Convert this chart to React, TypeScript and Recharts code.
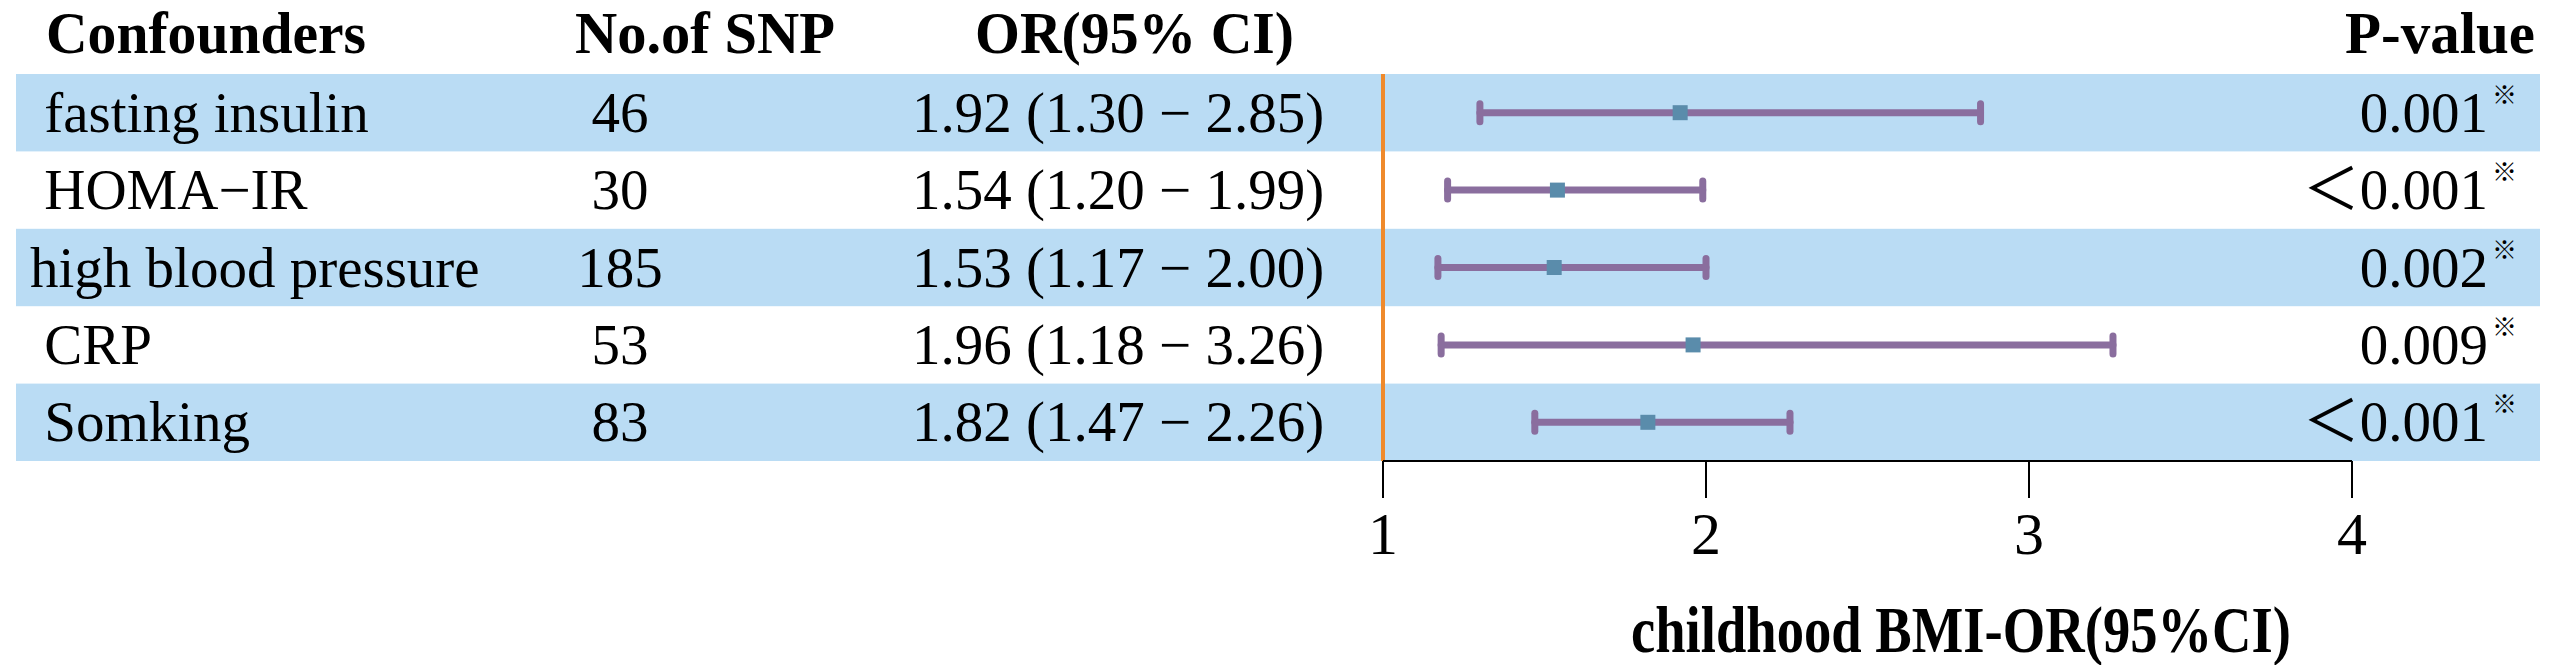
import React from "react";
import { ComposedChart, Scatter, ErrorBar, XAxis, YAxis, ReferenceArea, ReferenceLine } from "recharts";

// forest plot: childhood BMI vs confounders
const confounders = [" fasting insulin", " HOMA\u2212IR", "high blood pressure", " CRP", " Somking"];
const snpCounts = [46, 30, 185, 53, 83];
const oddsRatios = [1.92, 1.54, 1.53, 1.96, 1.82];
const ciLower = [1.3, 1.2, 1.17, 1.18, 1.47];
const ciUpper = [2.85, 1.99, 2.0, 3.26, 2.26];
const pValues = ["0.001", "\uFF1C0.001", "0.002", "0.009", "\uFF1C0.001"];
const xTicks = [1, 2, 3, 4];
const shadedRows = [0, 2, 4];

const rows = confounders.map((name, i) => ({
  name,
  or: oddsRatios[i],
  err: [oddsRatios[i] - ciLower[i], ciUpper[i] - oddsRatios[i]],
}));

const SERIF = "'Liberation Serif', 'Times New Roman', 'Noto Sans CJK SC', serif";
const BAND = "#BADCF4";
const PURPLE = "#8A6E9E";
const SQUARE = "#5A8CAB";
const ORANGE = "#EF8A2C";

const fmt = (v: number) => v.toFixed(2);

function RowTick(props: any) {
  const { y, payload } = props;
  const i = confounders.indexOf(payload.value);
  if (i < 0) return null;
  const base = y + 19;
  const common = { fontSize: 57, fontFamily: SERIF, fill: "#000" };
  return (
    <g>
      <text x={30} y={base} {...common} xmlSpace="preserve" style={{ whiteSpace: "pre" }}>
        {confounders[i]}
      </text>
      <text x={620} y={base} textAnchor="middle" {...common}>
        {snpCounts[i]}
      </text>
      <text x={912} y={base} {...common}>
        {`${fmt(oddsRatios[i])} (${fmt(ciLower[i])} \u2212 ${fmt(ciUpper[i])})`}
      </text>
      <text x={2488} y={base} textAnchor="end" {...common}>
        {pValues[i]}
      </text>
      <text x={2492} y={y - 9} fontSize={25} fontFamily="'Noto Sans CJK SC', sans-serif" fill="#000">
        {"\u203B"}
      </text>
    </g>
  );
}

const HeaderRow = () => (
  <g fontFamily={SERIF} fontWeight="bold" fontSize={59} fill="#000">
    <text x={46} y={53} textLength={320} lengthAdjust="spacingAndGlyphs">Confounders</text>
    <text x={575} y={53} textLength={260} lengthAdjust="spacingAndGlyphs">No.of SNP</text>
    <text x={975} y={53} textLength={319} lengthAdjust="spacingAndGlyphs">OR(95% CI)</text>
    <text x={2535} y={53} textAnchor="end" textLength={190} lengthAdjust="spacingAndGlyphs">P-value</text>
  </g>
);

const AxisTitle = () => (
  <text
    x={1961}
    y={652}
    textAnchor="middle"
    fontFamily={SERIF}
    fontWeight="bold"
    fontSize={66}
    fill="#000"
    textLength={660}
    lengthAdjust="spacingAndGlyphs"
  >
    childhood BMI-OR(95%CI)
  </text>
);

// full-width stripe behind the row (table columns + plot)
const BandShape = (p: any) => <rect x={16} y={p.y} width={2524} height={p.height} fill={BAND} />;

const SquareDot = (p: any) => (
  <rect x={p.cx - 7.5} y={p.cy - 7.5} width={15} height={15} fill={SQUARE} />
);

export default function App() {
  return (
    <div style={{ position: "absolute", left: 0, top: 0, width: 2550, height: 665, background: "#fff" }}>
      <ComposedChart
        width={2550}
        height={665}
        data={rows}
        layout="vertical"
        margin={{ top: 74, right: 198, bottom: 84, left: 1323 }}
      >
        {shadedRows.map((i) => (
          <ReferenceArea
            key={i}
            y1={confounders[i]}
            y2={confounders[i]}
            ifOverflow="visible"
            shape={BandShape}
          />
        ))}
        <XAxis
          type="number"
          dataKey="or"
          domain={[1, 4]}
          ticks={xTicks}
          height={120}
          tickSize={37}
          tickMargin={13}
          stroke="#000"
          axisLine={{ stroke: "#000", strokeWidth: 2 }}
          tickLine={{ stroke: "#000", strokeWidth: 2 }}
          tick={{ fill: "#000", fontSize: 60, fontFamily: SERIF }}
          label={{ content: AxisTitle }}
        />
        <YAxis
          type="category"
          dataKey="name"
          scale="band"
          width={60}
          interval={0}
          axisLine={false}
          tickLine={false}
          tick={RowTick}
          label={{ content: HeaderRow }}
        />
        <ReferenceLine x={1} stroke={ORANGE} strokeWidth={4} />
        <Scatter dataKey="or" shape={SquareDot} isAnimationActive={false}>
          <ErrorBar
            dataKey="err"
            direction="x"
            width={9}
            stroke={PURPLE}
            strokeWidth={7}
            strokeLinecap="round"
            isAnimationActive={false}
          />
        </Scatter>
      </ComposedChart>
    </div>
  );
}
